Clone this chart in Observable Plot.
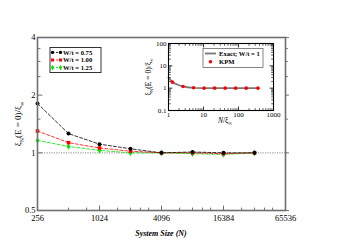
<!DOCTYPE html>
<html><head><meta charset="utf-8">
<script src="https://cdn.jsdelivr.net/npm/d3@7"></script>
<script src="https://cdn.jsdelivr.net/npm/@observablehq/plot@0.6"></script>
<style>
body{margin:0;background:#fff;}
#wrap{position:relative;width:351px;height:248px;font-family:"Liberation Serif",serif;}
#wrap svg{position:absolute;left:0;top:0;overflow:visible;}
</style></head><body><div id="wrap"></div>
<script>
// ---------- main chart data ----------
const sizes = [256, 512, 1024, 2048, 4096, 8192, 16384, 32768];
const w075 = [1.81, 1.26, 1.11, 1.05, 1.00, 1.01, 1.00, 1.00];
const w100 = [1.30, 1.13, 1.06, 1.02, 1.00, 1.00, 0.99, 1.00];
const w125 = [1.16, 1.08, 1.03, 1.00, 1.00, 0.99, 0.98, 1.00];
const seriesNames = ["W/t = 0.75", "W/t = 1.00", "W/t = 1.25"];
const seriesColors = ["#000000", "#ff0000", "#00e600"];
const seriesSymbols = ["circle", "square", "diamond"];
const xMajor = [256, 1024, 4096, 16384, 65536];
const xMinor = [512, 768, 1536, 2048, 2560, 3072, 6144, 8192, 10240, 12288, 24576, 32768, 40960, 49152];
const yMajor = [0.5, 1, 2, 4];
const yMinor = [1.5, 2.5, 3, 3.5];
const xLabel = "System Size (N)";

// ---------- inset data ----------
const exactX = [1, 1.15, 1.3, 1.6, 2, 2.6, 3.5, 5.2, 10, 20, 50, 100, 360];
const exactY = [3.0, 2.3, 1.86, 1.55, 1.35, 1.19, 1.1, 1.04, 1.01, 1.0, 1.0, 1.0, 1.0];
const kpmX = [1.3, 2.6, 5.2, 10.4, 20.8, 41.6, 83, 166, 360];
const kpmY = [1.86, 1.19, 1.04, 1.0, 1.0, 1.0, 1.0, 1.0, 1.0];
const insetXMajor = [1, 10, 100, 1000];
const insetYMajor = [0.1, 1, 10, 100];
const insetLegend = ["Exact; W/t = 1", "KPM"];

const seriesValues = [w075, w100, w125];
const mainRows = [];
seriesNames.forEach((s, j) => sizes.forEach((n, i) => mainRows.push({s, n, v: seriesValues[j][i]})));
const exactRows = exactX.map((x, i) => ({x, y: exactY[i]}));
const kpmRows = kpmX.map((x, i) => ({x, y: kpmY[i]}));

const tickShape = {draw(ctx, l) { ctx.moveTo(0, 0); ctx.lineTo(0, -l); }};
const frameGray = "#707070";

function ticks(data, side, len, stroke, sw, xd, yd) {
  const o = {shape: tickShape, anchor: "start", length: len, stroke, strokeWidth: sw};
  if (side === "bottom") return Plot.vector(data, {...o, x: d => d, y: () => yd[0], rotate: 0});
  if (side === "top") return Plot.vector(data, {...o, x: d => d, y: () => yd[1], rotate: 180});
  if (side === "left") return Plot.vector(data, {...o, y: d => d, x: () => xd[0], rotate: 90});
  return Plot.vector(data, {...o, y: d => d, x: () => xd[1], rotate: -90});
}

const xD = [256, 65536], yD = [0.5, 4];
const lineMarks = [], dotMarks = [];
seriesNames.forEach((s, j) => {
  const rows = mainRows.filter(r => r.s === s);
  lineMarks.push(Plot.line(rows, {x: "n", y: "v", stroke: seriesColors[j], strokeWidth: 0.8, strokeDasharray: "3,2"}));
  dotMarks.push(Plot.dot(rows, {x: "n", y: "v", fill: seriesColors[j], stroke: "none", symbol: seriesSymbols[j], r: 2}));
});

const main = Plot.plot({
  width: 351, height: 248,
  marginLeft: 37, marginRight: 66, marginTop: 37, marginBottom: 38,
  x: {type: "log", base: 2, domain: xD},
  y: {type: "log", base: 2, domain: yD},
  style: {fontFamily: "Liberation Serif", fontSize: "8.5px", background: "transparent", color: "#000"},
  marks: [
    Plot.ruleY([1], {stroke: "#a0a0a0", strokeWidth: 1.4, strokeDasharray: "1.2,1.2"}),
    ...lineMarks.reverse(),
    ...dotMarks.reverse(),
    Plot.frame({stroke: frameGray, strokeWidth: 1.6}),
    ticks(xMajor, "bottom", 4.5, frameGray, 1, xD, yD),
    ticks(xMinor, "bottom", 2.5, frameGray, 1, xD, yD),
    ticks(yMajor, "left", 4.5, frameGray, 1, xD, yD),
    ticks(yMinor, "left", 2.5, frameGray, 1, xD, yD),
    ticks(yMajor, "right", -3, frameGray, 1, xD, yD),
    ticks(yMinor, "right", -2, frameGray, 1, xD, yD),
    Plot.axisX(xMajor, {tickSize: 0, tickPadding: 4, tickFormat: d => String(d), label: null}),
    Plot.axisY(yMajor, {tickSize: 0, tickPadding: 2, tickFormat: d => String(d), label: null})
  ]
});

// ---------- inset ----------
const ixD = [1, 1000], iyD = [0.1, 100];
const minorsOf = (lo, hi) => { const r = []; for (let d = lo; d < hi; d *= 10) for (let k = 2; k <= 9; k++) r.push(d * k); return r; };
const ixMinor = minorsOf(1, 1000), iyMinor = minorsOf(0.1, 100);
const inset = Plot.plot({
  width: 351, height: 248,
  marginLeft: 168, marginRight: 78, marginTop: 43, marginBottom: 138,
  x: {type: "log", domain: ixD},
  y: {type: "log", domain: iyD},
  style: {fontFamily: "Liberation Serif", fontSize: "7px", background: "transparent", color: "#000"},
  marks: [
    Plot.frame({fill: "white"}),
    Plot.line(exactRows, {x: "x", y: "y", stroke: "#777", strokeWidth: 1.8}),
    Plot.dot(kpmRows, {x: "x", y: "y", fill: "#ff0000", r: 1.8}),
    Plot.frame({stroke: "#000", strokeWidth: 1.1}),
    ticks(insetXMajor, "bottom", 3.5, "#000", 0.8, ixD, iyD),
    ticks(ixMinor, "bottom", 2, "#000", 0.6, ixD, iyD),
    ticks(insetXMajor, "top", 3.5, "#000", 0.8, ixD, iyD),
    ticks(ixMinor, "top", 2, "#000", 0.6, ixD, iyD),
    ticks(insetYMajor, "left", 3.5, "#000", 0.8, ixD, iyD),
    ticks(iyMinor, "left", 2, "#000", 0.6, ixD, iyD),
    ticks(insetYMajor, "right", 3.5, "#000", 0.8, ixD, iyD),
    ticks(iyMinor, "right", 2, "#000", 0.6, ixD, iyD),
    Plot.axisX(insetXMajor, {tickSize: 0, tickPadding: 2, tickFormat: d => String(d), label: null}),
    Plot.axisY(insetYMajor, {tickSize: 0, tickPadding: 2, tickFormat: d => String(d), label: null})
  ]
});

const wrap = document.getElementById("wrap");
wrap.appendChild(main);
wrap.appendChild(inset);

// ---------- labels ----------
function xiLabel(g, size) {
  const t = g.append("text").attr("text-anchor", "middle").attr("font-size", size).attr("fill", "#000");
  t.append("tspan").text("ξ");
  t.append("tspan").attr("font-size", size * 0.65).attr("dy", size * 0.3).text("N");
  t.append("tspan").attr("dy", -size * 0.3).text("(E = 0)/ξ");
  t.append("tspan").attr("font-size", size * 0.65).attr("dy", size * 0.3).text("∞");
  return t;
}
const ms = d3.select(main);
xiLabel(ms.append("g").attr("transform", "translate(21,124) rotate(-90)"), 9);
ms.append("text").attr("x", 161).attr("y", 236).attr("text-anchor", "middle")
  .attr("font-size", 8).attr("font-weight", "bold").attr("font-style", "italic").text(xLabel);

// main legend
const lg = ms.append("g").attr("text-anchor", "start");
lg.append("rect").attr("x", 50).attr("y", 47.5).attr("width", 51).attr("height", 25)
  .attr("fill", "white").attr("stroke", "#333").attr("stroke-width", 1);
seriesNames.forEach((s, j) => {
  const cy = 52.4 + j * 7.6;
  lg.append("line").attr("x1", 52.5).attr("x2", 60.5).attr("y1", cy).attr("y2", cy)
    .attr("stroke", seriesColors[j]).attr("stroke-width", 0.8).attr("stroke-dasharray", "2,1.5");
  [52.5, 60.5].forEach(x => lg.append("path")
    .attr("d", d3.symbol(j === 0 ? d3.symbolCircle : j === 1 ? d3.symbolSquare : d3.symbolDiamond, 9)())
    .attr("transform", `translate(${x},${cy})`).attr("fill", seriesColors[j]));
  lg.append("text").attr("x", 63).attr("y", cy).attr("dy", "0.33em").attr("text-anchor", "start")
    .attr("font-size", 6.6).attr("font-weight", "bold").text(s);
});

// inset labels
const is = d3.select(inset);
xiLabel(is.append("g").attr("transform", "translate(151,77) rotate(-90)"), 7.5);
const nx = is.append("text").attr("x", 225).attr("y", 123).attr("text-anchor", "middle").attr("font-size", 7.5);
nx.append("tspan").attr("font-style", "italic").text("N");
nx.append("tspan").text("/ξ");
nx.append("tspan").attr("font-size", 5).attr("dy", 2).text("∞");

const il = is.append("g").attr("text-anchor", "start");
il.append("rect").attr("x", 203).attr("y", 48.5).attr("width", 60).attr("height", 19)
  .attr("fill", "white").attr("stroke", "#666").attr("stroke-width", 0.8);
il.append("line").attr("x1", 205).attr("x2", 216).attr("y1", 53.5).attr("y2", 53.5)
  .attr("stroke", "#777").attr("stroke-width", 1.8);
il.append("circle").attr("cx", 210.5).attr("cy", 61.8).attr("r", 1.8).attr("fill", "#ff0000");
insetLegend.forEach((s, i) => il.append("text").attr("x", 219).attr("y", 53.5 + i * 8.3).attr("dy", "0.33em")
  .attr("text-anchor", "start").attr("font-size", 6.6).attr("font-weight", "bold").text(s));
</script></body></html>
